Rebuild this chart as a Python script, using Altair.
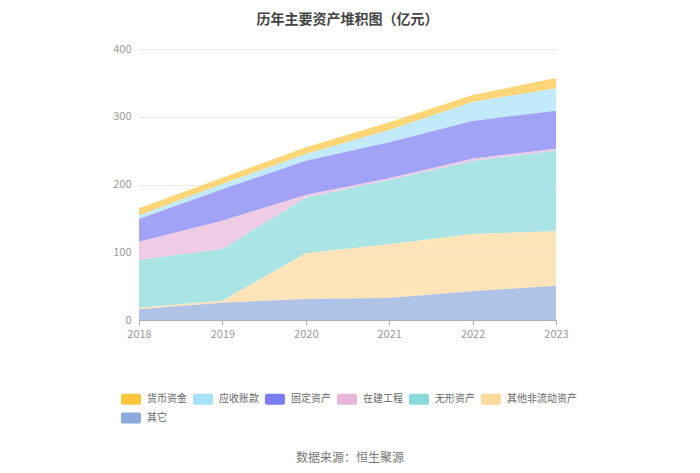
import altair as alt
import pandas as pd

years = ["2018", "2019", "2020", "2021", "2022", "2023"]
categories = ["货币资金", "应收账款", "固定资产", "在建工程", "无形资产", "其他非流动资产", "其它"]
colors = ["#FFC53D", "#A6E1FA", "#7A7CF2", "#E8B6DA", "#88D9D8", "#FFD99C", "#8CAADB"]

cash = [10.8, 9.4, 9.9, 11.4, 10.3, 15.2]
receivable = [5.0, 7.8, 9.8, 18.2, 28.1, 33.0]
fixed = [33.5, 46.3, 50.7, 53.1, 55.6, 56.1]
construction = [27.0, 41.8, 3.9, 2.5, 3.4, 3.0]
intangible = [70.4, 76.3, 82.2, 94.9, 107.8, 119.0]
other_noncurrent = [2.5, 2.9, 67.4, 79.2, 84.6, 80.2]
others = [15.7, 25.6, 31.0, 32.5, 42.3, 50.7]

series = [cash, receivable, fixed, construction, intangible, other_noncurrent, others]
source_note = ["数据来源：恒生聚源"]

rows = []
for ci, (name, vals) in enumerate(zip(categories, series)):
    for y, v in zip(years, vals):
        rows.append({"year": y, "category": name, "value": v, "rank": len(categories) - ci})
df = pd.DataFrame(rows)

FONT = "Noto Sans CJK SC"
rounded = ("M-0.8,-0.55H0.8A0.2,0.2 0 0 1 1,-0.35V0.35A0.2,0.2 0 0 1 0.8,0.55"
           "H-0.8A0.2,0.2 0 0 1 -1,0.35V-0.35A0.2,0.2 0 0 1 -0.8,-0.55Z")

area = alt.Chart(df).mark_area(opacity=0.7, line=False).encode(
    x=alt.X("year:O", scale=alt.Scale(type="point", padding=0),
            axis=alt.Axis(title=None, labelAngle=0, labelColor="#999999", labelFontSize=11,
                          labelFont=FONT, domainColor="#A9AEB8", tickColor="#A9AEB8",
                          tickSize=5, grid=False, labelPadding=3)),
    y=alt.Y("value:Q", stack="zero", scale=alt.Scale(domain=[0, 400]),
            axis=alt.Axis(title=None, values=[0, 100, 200, 300, 400], labelColor="#999999",
                          labelFontSize=11, labelFont=FONT, domain=False, ticks=False,
                          gridColor="#E6EAF2", labelPadding=8)),
    color=alt.Color("category:N", scale=alt.Scale(domain=categories, range=colors),
                    legend=alt.Legend(title=None, orient="none", legendX=-18, legendY=340,
                                      direction="horizontal", columns=6, symbolType=rounded,
                                      symbolSize=400, symbolOpacity=1, symbolStrokeWidth=0,
                                      labelFontSize=10, labelFont=FONT, labelColor="#666666",
                                      labelOffset=6, columnPadding=6, rowPadding=3)),
    order=alt.Order("rank:Q"),
)

note = alt.Chart(pd.DataFrame({"t": source_note})).mark_text(
    font=FONT, fontSize=12, color="#777777", align="center", baseline="middle"
).encode(text="t:N", x=alt.value(211), y=alt.value(409))

chart = alt.layer(area, note).properties(
    width=417, height=271,
    title=alt.TitleParams("历年主要资产堆积图（亿元）", font=FONT, fontSize=14, fontWeight="bold",
                          color="#444444", anchor="middle", offset=16),
    padding={"left": 131, "top": 41, "right": 136, "bottom": 145},
    autosize=alt.AutoSizeParams(type="none"),
).configure_view(stroke=None)

chart.save("out.html", embed_options={"renderer": "svg", "actions": False})
